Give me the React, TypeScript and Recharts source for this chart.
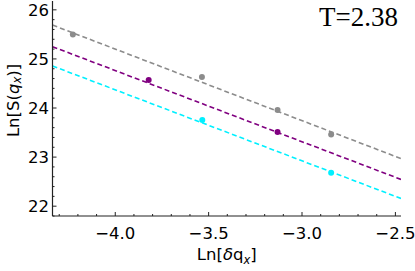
import { ComposedChart, Line, Scatter, XAxis, YAxis } from 'recharts';

// fit lines, read at the frame edges
const grayFit = [
  { x: -4.336, y: 25.69 },
  { x: -2.47, y: 22.97 },
];
const purpleFit = [
  { x: -4.336, y: 25.25 },
  { x: -2.47, y: 22.545 },
];
const cyanFit = [
  { x: -4.336, y: 24.857 },
  { x: -2.47, y: 22.157 },
];

// measured points
const grayPts = [
  { x: -4.227, y: 25.5 },
  { x: -3.536, y: 24.63 },
  { x: -3.131, y: 23.96 },
  { x: -2.844, y: 23.46 },
];
const purplePts = [
  { x: -3.821, y: 24.57 },
  { x: -3.131, y: 23.51 },
];
const cyanPts = [
  { x: -3.534, y: 23.755 },
  { x: -2.844, y: 22.68 },
];

const xDomain = [-4.336, -2.47];
const yDomain = [21.8, 26.18];
const xMajor = [-4, -3.5, -3, -2.5];
const xTicks = [
  -4.3, -4.2, -4.1, -4, -3.9, -3.8, -3.7, -3.6, -3.5, -3.4, -3.3, -3.2, -3.1, -3, -2.9, -2.8,
  -2.7, -2.6, -2.5,
];
const yMajor = [22, 23, 24, 25, 26];
const yTicks = [
  21.8, 22, 22.2, 22.4, 22.6, 22.8, 23, 23.2, 23.4, 23.6, 23.8, 24, 24.2, 24.4, 24.6, 24.8, 25,
  25.2, 25.4, 25.6, 25.8, 26,
];

const FRAME = '#222';
const FONT = 'DejaVu Sans';
const isMajor = (list: number[], v: number) => list.some((m) => Math.abs(m - v) < 1e-6);
const fmt = (v: number) => (v < 0 ? '\u2212' + Math.abs(v).toFixed(1) : String(v));

const BottomTick = ({ x, y, payload }: any) => {
  const major = isMajor(xMajor, payload.value);
  return (
    <g>
      <line x1={x} x2={x} y1={y} y2={y - (major ? 4 : 2)} stroke={FRAME} />
      {major && (
        <text x={x} y={y + 22.5} textAnchor="middle" fontFamily={FONT} fontSize={16.5} fill="#000">
          {fmt(payload.value)}
        </text>
      )}
    </g>
  );
};

const TopTick = ({ x, y, payload }: any) => {
  const major = isMajor(xMajor, payload.value);
  return <line x1={x} x2={x} y1={y} y2={y + (major ? 4 : 2)} stroke={FRAME} />;
};

const LeftTick = ({ x, y, payload }: any) => {
  const major = isMajor(yMajor, payload.value);
  return (
    <g>
      <line x1={x} x2={x + (major ? 4 : 2)} y1={y} y2={y} stroke={FRAME} />
      {major && (
        <text x={x - 3.5} y={y + 6} textAnchor="end" fontFamily={FONT} fontSize={16.5} fill="#000">
          {payload.value}
        </text>
      )}
    </g>
  );
};

const RightTick = ({ x, y, payload }: any) => {
  const major = isMajor(yMajor, payload.value);
  return <line x1={x} x2={x - (major ? 4 : 2)} y1={y} y2={y} stroke={FRAME} />;
};

const dot = (color: string) => (props: any) =>
  <circle cx={props.cx} cy={props.cy} r={3} fill={color} />;

export default function App() {
  return (
    <div style={{ position: 'absolute', left: 0, top: 0, width: 415, height: 271 }}>
      <ComposedChart width={415} height={271} margin={{ top: 1, right: 14, bottom: 0, left: 0 }}>
        <XAxis
          xAxisId="b"
          type="number"
          dataKey="x"
          domain={xDomain}
          ticks={xTicks}
          allowDataOverflow
          height={55}
          tickSize={0}
          tickMargin={0}
          tickLine={false}
          interval={0}
          axisLine={{ stroke: FRAME, strokeWidth: 1.2 }}
          tick={<BottomTick />}
          label={({ viewBox }: any) => (
            <text
              x={viewBox.x + viewBox.width / 2}
              y={viewBox.y + 44}
              textAnchor="middle"
              fontFamily={FONT}
              fontSize={16.5}
              fill="#000"
            >
              Ln[<tspan fontStyle="italic">δ</tspan>q
              <tspan fontSize={11.5} fontStyle="italic" dy={4}>x</tspan>
              <tspan dy={-4}>]</tspan>
            </text>
          )}
        />
        <XAxis
          xAxisId="t"
          orientation="top"
          type="number"
          dataKey="x"
          domain={xDomain}
          ticks={xTicks}
          allowDataOverflow
          height={0}
          tickSize={0}
          tickMargin={0}
          tickLine={false}
          interval={0}
          axisLine={{ stroke: FRAME, strokeWidth: 1.2 }}
          tick={<TopTick />}
        />
        <YAxis
          yAxisId="l"
          type="number"
          dataKey="y"
          domain={yDomain}
          ticks={yTicks}
          allowDataOverflow
          width={52.5}
          tickSize={0}
          tickMargin={0}
          tickLine={false}
          interval={0}
          axisLine={{ stroke: FRAME, strokeWidth: 1.2 }}
          tick={<LeftTick />}
          label={({ viewBox }: any) => {
            const cx = 13;
            const cy = viewBox.y + viewBox.height / 2 - 8;
            return (
              <text
                x={cx}
                y={cy}
                transform={`rotate(-90 ${cx} ${cy})`}
                textAnchor="middle"
                dominantBaseline="central"
                fontFamily={FONT}
                fontSize={16.5}
                fill="#000"
              >
                Ln[S(<tspan fontStyle="italic">q</tspan>
                <tspan fontSize={11.5} fontStyle="italic" dy={4}>x</tspan>
                <tspan dy={-4}>)]</tspan>
              </text>
            );
          }}
        />
        <YAxis
          yAxisId="r"
          orientation="right"
          type="number"
          dataKey="y"
          domain={yDomain}
          ticks={yTicks}
          allowDataOverflow
          width={0}
          tickSize={0}
          tickMargin={0}
          tickLine={false}
          interval={0}
          axisLine={{ stroke: FRAME, strokeWidth: 1.2 }}
          tick={<RightTick />}
        />
        <Line
          xAxisId="b"
          yAxisId="l"
          data={grayFit}
          dataKey="y"
          stroke="#8c8c8c"
          strokeWidth={1.6}
          strokeDasharray="5 3"
          dot={false}
          isAnimationActive={false}
        />
        <Line
          xAxisId="b"
          yAxisId="l"
          data={purpleFit}
          dataKey="y"
          stroke="#800080"
          strokeWidth={1.6}
          strokeDasharray="5 3"
          dot={false}
          isAnimationActive={false}
        />
        <Line
          xAxisId="b"
          yAxisId="l"
          data={cyanFit}
          dataKey="y"
          stroke="#00f0ff"
          strokeWidth={1.6}
          strokeDasharray="5 3"
          dot={false}
          isAnimationActive={false}
        />
        <Scatter xAxisId="b" yAxisId="l" data={grayPts} dataKey="y" shape={dot('#8c8c8c')} isAnimationActive={false} />
        <Scatter xAxisId="b" yAxisId="l" data={purplePts} dataKey="y" shape={dot('#800080')} isAnimationActive={false} />
        <Scatter xAxisId="b" yAxisId="l" data={cyanPts} dataKey="y" shape={dot('#00f0ff')} isAnimationActive={false} />
      </ComposedChart>
      <div
        style={{
          position: 'absolute',
          right: 17,
          top: 2,
          fontFamily: '"Liberation Serif", serif',
          fontSize: 27,
          lineHeight: '30px',
          color: '#000',
        }}
      >
        T=2.38
      </div>
    </div>
  );
}
